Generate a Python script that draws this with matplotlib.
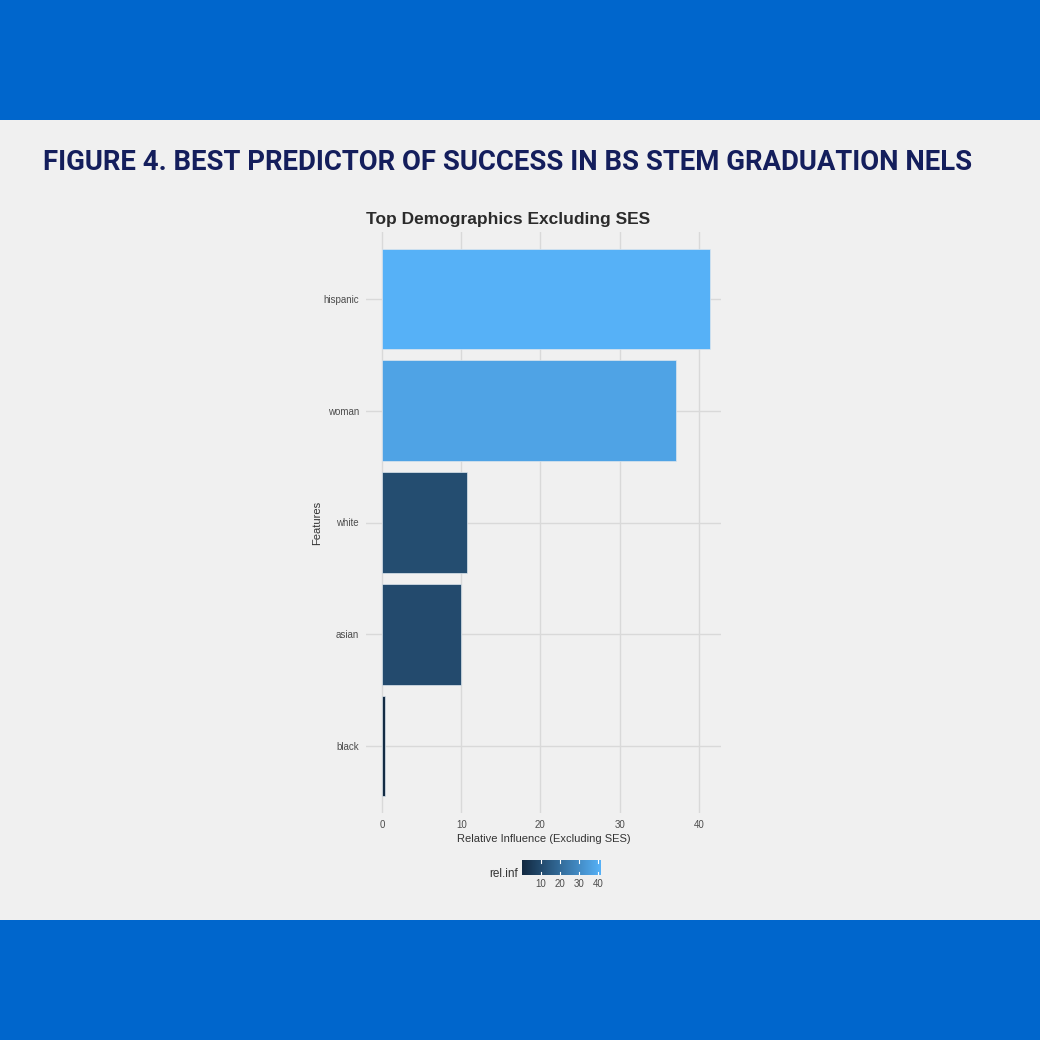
import numpy as np
import matplotlib
matplotlib.use("Agg")
import matplotlib.pyplot as plt
from matplotlib.colors import LinearSegmentedColormap, Normalize

features = ["hispanic", "woman", "white", "asian", "black"]
rel_inf = [41.4, 37.1, 10.7, 10.0, 0.4]
x_ticks = [0, 10, 20, 30, 40]
cbar_ticks = [10, 20, 30, 40]

BG = "#f0f0f0"
BAND = "#0066cc"
NAVY = "#141e5c"
plt.rcParams["font.family"] = ["Liberation Sans", "DejaVu Sans"]

cmap = LinearSegmentedColormap.from_list("gg", ["#132b43", "#56b1f7"])
norm = Normalize(vmin=min(rel_inf), vmax=max(rel_inf))

fig = plt.figure(figsize=(10.4, 10.4), dpi=100, facecolor=BG)
W = H = 1040.0

def px_axes(x0, y0, x1, y1):
    return fig.add_axes([x0 / W, 1 - y1 / H, (x1 - x0) / W, (y1 - y0) / H])

# blue bands top and bottom
for y0, y1 in [(0, 120), (920, 1040)]:
    band = px_axes(0, y0, 1040, y1)
    band.set_facecolor(BAND)
    band.set_xticks([]); band.set_yticks([])
    for s in band.spines.values():
        s.set_visible(False)

fig.text(43 / W, 1 - 163 / H, "FIGURE 4. BEST PREDICTOR OF SUCCESS IN BS STEM GRADUATION NELS",
         fontsize=19.8, fontweight="bold", color=NAVY, family="Roboto",
         ha="left", va="center")

# main panel
ax = px_axes(366, 232, 721, 813)
ax.set_facecolor(BG)
ypos = np.arange(len(features))
ax.barh(ypos, rel_inf, height=0.9, color=cmap(norm(np.array(rel_inf))),
        edgecolor="#dde6ee", linewidth=0.5, zorder=3)
ax.set_xlim(-2.02, 42.8)
ax.set_ylim(len(features) - 1 + 0.6, -0.6)
ax.set_xticks(x_ticks)
ax.set_yticks(ypos)
ax.set_yticklabels(features)
ax.grid(True, color="#d9d9d9", linewidth=1.0, zorder=0)
ax.tick_params(length=0, labelsize=7, labelcolor="#4d4d4d", pad=5)
for s in ax.spines.values():
    s.set_visible(False)
ax.set_xlabel("Relative Influence (Excluding SES)", fontsize=8, color="#333333", labelpad=3)
ax.set_ylabel("Features", fontsize=8, color="#333333", labelpad=1)
ax.set_title("Top Demographics Excluding SES", fontsize=12.5, fontweight="bold",
             color="#2b2b2b", loc="left", x=0.0, pad=6)

# colour bar legend
cax = px_axes(522, 860, 601, 875)
grad = np.linspace(0, 41.6, 256).reshape(1, -1)
cax.imshow(grad, aspect="auto", cmap=cmap, norm=norm, extent=[0, 41.6, 0, 1])
cax.set_xlim(0, 41.6)
cax.set_ylim(0, 1)
for t in cbar_ticks:
    cax.plot([t, t], [0, 0.2], color="white", lw=0.8)
    cax.plot([t, t], [0.8, 1], color="white", lw=0.8)
cax.set_yticks([])
cax.set_xticks(cbar_ticks)
cax.tick_params(length=0, labelsize=7, labelcolor="#4d4d4d", pad=3)
for s in cax.spines.values():
    s.set_visible(False)
fig.text(518 / W, 1 - 874 / H, "rel.inf", fontsize=8.5, color="#333333",
         ha="right", va="center")

fig.savefig("out.png", dpi=100, facecolor=BG)
